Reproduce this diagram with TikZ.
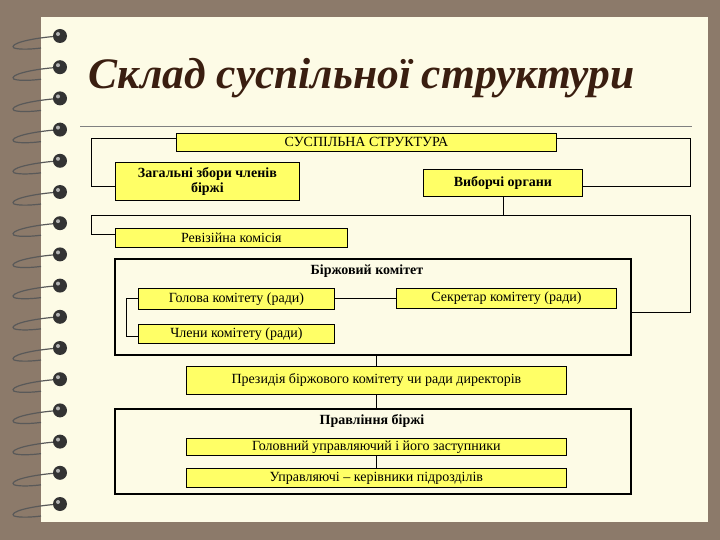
\documentclass[tikz,border=0pt]{standalone}
\usepackage{fontspec}
\setmainfont{Liberation Serif}
\begin{document}
\begin{tikzpicture}[x=1pt,y=-1pt,
 yb/.style={draw=black,fill=yellowbox,line width=0.8pt,inner sep=0pt,font=\fontsize{14}{14}\selectfont},
 frame/.style={draw=black,line width=1.8pt},
 ln/.style={draw=black,line width=0.6pt}]
\definecolor{yellowbox}{HTML}{FFFF66}
\definecolor{paper}{HTML}{FDFBE6}
\definecolor{bgb}{HTML}{8C7A6A}
\definecolor{ttl}{HTML}{3A1E10}
\useasboundingbox (0,0) rectangle (720,540);
\fill[bgb] (0,0) rectangle (720,540);
\fill[paper] (41,17) rectangle (708,522);
% rings
\foreach \i in {0,...,15}{
 \pgfmathsetmacro{\yy}{36+31.2*\i}
 \draw[gray!70!black,line width=1.2pt] (60,\yy) .. controls (30,\yy+2) and (8,\yy+8) .. (14,\yy+12) .. controls (20,\yy+14) and (34,\yy+13) .. (41,\yy+12);
 \fill[black!80] (60,\yy) circle (7);
 \fill[gray!60] (58,\yy-2) circle (2);
}
\node[anchor=west,text=ttl,font=\fontsize{43.5}{48}\selectfont\bfseries\itshape] (title) at (85,78) {Склад суспільної структури};
\draw[gray,line width=1pt] (80,127) -- (692,127);
% boxes
\node[yb,minimum width=380pt,minimum height=18pt,anchor=north west] (top) at (176,133) {СУСПІЛЬНА СТРУКТУРА};
\node[yb,font=\fontsize{14}{15}\selectfont\bfseries,align=center,minimum width=184pt,minimum height=38pt,anchor=north west] (zag) at (115,162) {Загальні збори членів\\біржі};
\node[yb,font=\fontsize{14}{14}\selectfont\bfseries,minimum width=159pt,minimum height=27pt,anchor=north west] (vyb) at (423,169) {Виборчі органи};
\node[yb,minimum width=232pt,minimum height=19pt,anchor=north west] (rev) at (115,228) {Ревізійна комісія};
\node[frame,minimum width=516pt,minimum height=96pt,anchor=north west] (kom) at (114,258) {};
\node[font=\fontsize{14}{14}\selectfont\bfseries] (komt) at (367,271) {Біржовий комітет};
\node[yb,minimum width=196pt,minimum height=21pt,anchor=north west] (hol) at (138,288) {Голова комітету (ради)};
\node[yb,minimum width=220pt,minimum height=20pt,anchor=north west] (sek) at (396,288) {Секретар комітету (ради)};
\node[yb,minimum width=196pt,minimum height=19pt,anchor=north west] (chl) at (138,324) {Члени комітету (ради)};
\node[yb,minimum width=380pt,minimum height=28pt,anchor=north west] (prez) at (186,366) {Президія біржового комітету чи ради директорів};
\node[frame,minimum width=516pt,minimum height=85pt,anchor=north west] (prav) at (114,408) {};
\node[font=\fontsize{14}{14}\selectfont\bfseries] (pravt) at (372,421) {Правління біржі};
\node[yb,minimum width=380pt,minimum height=17pt,anchor=north west] (hol2) at (186,438) {Головний управляючий і його заступники};
\node[yb,minimum width=380pt,minimum height=19pt,anchor=north west] (upr) at (186,468) {Управляючі – керівники підрозділів};
% connectors
\coordinate (L1) at (91,138); \coordinate (L2) at (91,186);
\coordinate (R1) at (690,138); \coordinate (R2) at (690,186);
\draw[ln] (top.west |- L1) -- (L1) -- (L2) -- (zag.west |- L2);
\draw[ln] (top.east |- R1) -- (R1) -- (R2) -- (vyb.east |- R2);
\coordinate (H1) at (91,215); \coordinate (H2) at (690,215);
\draw[ln] (vyb.south) -- (vyb.south |- H1);
\draw[ln] (rev.west |- 0,234) -- (91,234) -- (H1) -- (H2) -- (690,312) -- (kom.east |- 0,312);
\draw[ln] (hol.east |- 0,298) -- (sek.west |- 0,298);
\draw[ln] (hol.west |- 0,298) -- (126,298) -- (126,336) -- (chl.west |- 0,336);
\draw[ln] (kom.south -| prez.north) -- (prez.north);
\draw[ln] (prez.south) -- (prav.north -| prez.south);
\draw[ln] (hol2.south) -- (upr.north);
\end{tikzpicture}
\end{document}
